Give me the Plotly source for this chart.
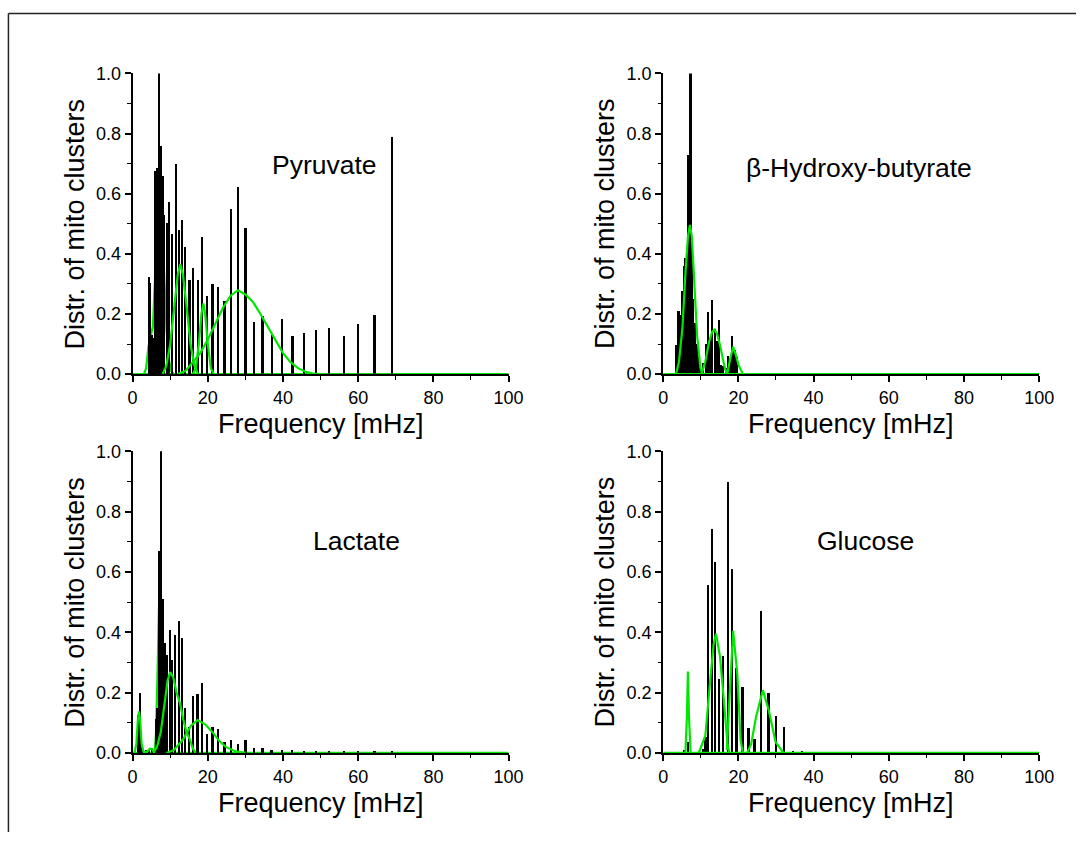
import plotly.graph_objects as go

# ---------------- data ----------------
pyr_x = [4.3, 4.6, 4.8, 5.1, 5.4, 5.7, 6.0, 6.5, 6.97, 7.4, 7.9, 8.4, 9.1, 9.7, 10.5, 11.4,
         12.2, 13.0, 14.0, 15.1, 16.1, 17.3, 18.5, 19.8, 21.2, 22.7, 24.4, 26.1, 28.0, 30.0,
         32.2, 34.5, 37.0, 39.7, 42.5, 45.5, 48.8, 52.3, 56.1, 60.0, 64.3, 69.0]
pyr_y = [0.32, 0.30, 0.12, 0.13, 0.12, 0.12, 0.674, 0.683, 1.0, 0.757, 0.656, 0.527, 0.50,
         0.571, 0.463, 0.696, 0.477, 0.512, 0.42, 0.31, 0.35, 0.31, 0.454, 0.26, 0.297, 0.287,
         0.243, 0.547, 0.621, 0.485, 0.173, 0.192, 0.129, 0.183, 0.126, 0.134, 0.144, 0.151,
         0.126, 0.165, 0.194, 0.788]

hb_x = [3.6, 4.2, 4.75, 5.27, 5.7, 6.05, 6.4, 6.84, 7.36, 7.75, 8.1, 8.5, 9.0, 9.5, 10.0,
        10.6, 11.4, 12.05, 12.5, 13.0, 13.8, 14.4, 14.9, 15.5, 16.1, 16.8, 17.4, 18.0, 18.5,
        19.1, 19.7]
hb_y = [0.097, 0.207, 0.194, 0.276, 0.357, 0.384, 0.40, 0.728, 1.0, 0.40, 0.25, 0.17, 0.10,
        0.07, 0.04, 0.035, 0.10, 0.205, 0.12, 0.245, 0.15, 0.11, 0.178, 0.03, 0.025, 0.02,
        0.059, 0.05, 0.126, 0.08, 0.056]

lac_x = [1.3, 1.9, 2.4, 3.5, 4.3, 5.2, 6.1, 6.5, 6.96, 7.5, 8.0, 8.5, 9.1, 9.8, 10.5, 11.3,
         12.2, 13.05, 13.9, 15.0, 16.1, 17.2, 18.5, 19.8, 21.2, 22.7, 24.4, 26.1, 28.0, 30.0,
         32.2, 34.5, 36.9, 39.6, 42.4, 45.5, 48.8, 52.3, 56.1, 60.0, 64.3, 69.0]
lac_y = [0.124, 0.197, 0.02, 0.01, 0.01, 0.015, 0.113, 0.149, 0.67, 1.0, 0.509, 0.365, 0.325,
         0.408, 0.307, 0.39, 0.435, 0.381, 0.149, 0.084, 0.189, 0.194, 0.23, 0.063, 0.086,
         0.077, 0.036, 0.042, 0.028, 0.042, 0.015, 0.015, 0.008, 0.01, 0.008, 0.006, 0.005,
         0.005, 0.004, 0.005, 0.006, 0.005]

glu_x = [5.8, 6.66, 10.6, 11.36, 12.14, 13.1, 13.97, 15.0, 16.06, 17.3, 18.5, 19.6, 21.2,
         22.8, 24.4, 26.2, 28.1, 30.1, 32.2, 34.6, 37.0]
glu_y = [0.01, 0.036, 0.012, 0.052, 0.556, 0.742, 0.633, 0.244, 0.319, 0.896, 0.608, 0.28,
         0.217, 0.083, 0.046, 0.469, 0.197, 0.122, 0.085, 0.007, 0.004]

# fitted peaks (green); flag True = hidden behind the bars
pyr_fits = [
    ([0, 100], [0, 0], True),
    ([3.0, 3.6, 4.2, 4.8, 5.4, 6.0, 6.6, 7.2, 7.8, 8.4, 9.0, 9.6, 10.3, 11.0],
     [0, 0.02, 0.09, 0.12, 0.16, 0.33, 0.52, 0.60, 0.52, 0.33, 0.15, 0.05, 0.01, 0], True),
    ([8.0, 9.0, 10.0, 11.0, 12.0, 12.7, 13.4, 14.4, 15.4, 16.4, 17.4],
     [0, 0.03, 0.10, 0.22, 0.33, 0.366, 0.33, 0.22, 0.10, 0.03, 0], False),
    ([16.0, 16.8, 17.6, 18.3, 18.8, 19.3, 20.0, 20.8, 21.6],
     [0, 0.02, 0.10, 0.20, 0.235, 0.20, 0.10, 0.02, 0], False),
    ([12, 14, 16, 18, 20, 22, 24, 26, 28, 30, 32, 34, 36, 38, 40, 42, 44, 46, 48, 50],
     [0, 0.01, 0.04, 0.07, 0.115, 0.165, 0.22, 0.26, 0.279, 0.265, 0.24, 0.20, 0.155, 0.11,
      0.07, 0.04, 0.02, 0.008, 0.002, 0], False),
]
hb_fits = [
    ([0, 100], [0, 0], False),
    ([3.0, 3.5, 4.2, 5.1, 5.96, 6.6, 7.1, 7.6, 8.1, 9.0, 9.9, 10.4],
     [0, 0.004, 0.042, 0.151, 0.346, 0.46, 0.496, 0.46, 0.346, 0.13, 0.02, 0], False),
    ([10.0, 10.3, 11.2, 12.2, 13.0, 13.6, 14.3, 15.1, 16.4, 17.0],
     [0, 0.004, 0.042, 0.107, 0.14, 0.148, 0.135, 0.097, 0.02, 0], False),
    ([16.6, 17.1, 17.8, 18.6, 19.3, 20.05, 21.2],
     [0, 0.004, 0.05, 0.091, 0.065, 0.03, 0], False),
]
lac_fits = [
    ([0, 100], [0, 0], True),
    ([0.5, 1.0, 1.4, 1.7, 2.0, 2.4, 2.9, 3.4, 4.0, 4.6, 5.2, 5.8],
     [0, 0.03, 0.11, 0.138, 0.11, 0.03, 0.004, 0.002, 0.006, 0.014, 0.012, 0], False),
    ([5.8, 6.2, 6.6, 7.0, 7.4, 7.9, 8.4, 8.9],
     [0, 0.06, 0.25, 0.48, 0.55, 0.40, 0.15, 0], True),
    ([5.5, 6.5, 7.5, 8.5, 9.3, 10.0, 10.8, 11.7, 12.6, 13.5, 14.3, 15.2, 16.0, 16.8],
     [0, 0.02, 0.07, 0.16, 0.24, 0.268, 0.25, 0.20, 0.165, 0.11, 0.07, 0.046, 0.015, 0], False),
    ([9, 11, 13.5, 15.5, 17.3, 19.3, 21.3, 23, 24.8, 27.4, 30],
     [0, 0.01, 0.046, 0.09, 0.109, 0.095, 0.068, 0.04, 0.02, 0.005, 0], False),
]
glu_fits = [
    ([0, 100], [0, 0], False),
    ([5.9, 6.3, 6.57, 6.85, 7.3], [0, 0.12, 0.27, 0.12, 0], False),
    ([9.45, 11.2, 12.5, 13.4, 14.05, 15.1, 16.2, 17.1, 17.6],
     [0, 0.057, 0.24, 0.36, 0.395, 0.32, 0.165, 0.03, 0], False),
    ([16.9, 17.45, 18.6, 19.7, 20.6, 21.2], [0.01, 0.133, 0.405, 0.262, 0.04, 0], False),
    ([22.3, 23.4, 24.7, 26.5, 28.1, 29.9, 32.0], [0, 0.03, 0.12, 0.208, 0.14, 0.036, 0], False),
]

labels = ["Pyruvate", "\u03b2-Hydroxy-butyrate", "Lactate", "Glucose"]
x_title = "Frequency [mHz]"
y_title = "Distr. of mito clusters"
x_ticks = [0, 20, 40, 60, 80, 100]
y_ticks = [0.0, 0.2, 0.4, 0.6, 0.8, 1.0]

# ---------------- layout constants ----------------
W, H = 1091, 842
FONT = "Arial, Liberation Sans, Helvetica, sans-serif"
GREEN = "#00e600"


def fx(p):
    return p / W


def fy(p):
    return 1 - p / H


left_px = (130, 513)
right_px = (670.5, 1053.5)
top_px = (65, 373)
bot_px = (452, 761)

panels = [
    dict(bx=pyr_x, by=pyr_y, fits=pyr_fits, xp=left_px, yp=top_px,
         label=labels[0], lx=325, ly=159),
    dict(bx=hb_x, by=hb_y, fits=hb_fits, xp=right_px, yp=top_px,
         label=labels[1], lx=870, ly=162),
    dict(bx=lac_x, by=lac_y, fits=lac_fits, xp=left_px, yp=bot_px,
         label=labels[2], lx=358, ly=544),
    dict(bx=glu_x, by=glu_y, fits=glu_fits, xp=right_px, yp=bot_px,
         label=labels[3], lx=877, ly=544),
]

fig = go.Figure()
layout = dict(
    width=W, height=H, margin=dict(l=0, r=0, t=0, b=0),
    paper_bgcolor="white", plot_bgcolor="white", showlegend=False,
    font=dict(family=FONT, color="black"),
)

axis_common = dict(showgrid=False, zeroline=False, showline=True, linecolor="black",
                   linewidth=2, ticks="outside", tickcolor="black", tickwidth=1.5,
                   ticklen=6, tickfont=dict(family=FONT, size=18, color="black"))

annotations = []
overlay_idx = 5
for i, p in enumerate(panels, start=1):
    xa = "x" if i == 1 else f"x{i}"
    ya = "y" if i == 1 else f"y{i}"
    xk = "xaxis" if i == 1 else f"xaxis{i}"
    yk = "yaxis" if i == 1 else f"yaxis{i}"
    xd = [fx(p["xp"][0]), fx(p["xp"][1])]
    yd = [fy(p["yp"][1]), fy(p["yp"][0])]
    layout[xk] = dict(axis_common, domain=xd, anchor=ya, range=[0, 100],
                      tickvals=x_ticks, ticktext=[str(v) for v in x_ticks],
                      minor=dict(dtick=10, ticks="outside", ticklen=3.5, tickwidth=1.2,
                                 tickcolor="black"))
    layout[yk] = dict(axis_common, domain=yd, anchor=xa, range=[0, 1],
                      tickvals=y_ticks, ticktext=[f"{v:.1f}" for v in y_ticks],
                      minor=dict(dtick=0.1, ticks="outside", ticklen=3.5, tickwidth=1.2,
                                 tickcolor="black"))

    has_hidden = any(h for _, _, h in p["fits"])
    if has_hidden:
        # overlay subplot drawn above the base one: bars + visible fits
        oxa, oya = f"x{overlay_idx}", f"y{overlay_idx}"
        layout[f"xaxis{overlay_idx}"] = dict(overlaying=xa, range=[0, 100], visible=False,
                                             anchor=oya, domain=xd)
        layout[f"yaxis{overlay_idx}"] = dict(overlaying=ya, range=[0, 1], visible=False,
                                             anchor=oxa, domain=yd)
        overlay_idx += 1
    else:
        oxa, oya = xa, ya

    for fxs, fys, hidden in p["fits"]:
        if hidden:
            fig.add_trace(go.Scatter(x=fxs, y=fys, mode="lines", xaxis=xa, yaxis=ya,
                                     line=dict(color=GREEN, width=2.2), cliponaxis=False,
                                     hoverinfo="skip"))
    fig.add_trace(go.Bar(x=p["bx"], y=p["by"], width=0.45, xaxis=oxa, yaxis=oya,
                         marker=dict(color="black", line=dict(width=0))))
    for fxs, fys, hidden in p["fits"]:
        if not hidden:
            fig.add_trace(go.Scatter(x=fxs, y=fys, mode="lines", xaxis=oxa, yaxis=oya,
                                     line=dict(color=GREEN, width=2.2), cliponaxis=False,
                                     hoverinfo="skip"))

    # panel label
    annotations.append(dict(text=p["label"], x=fx(p["lx"]), y=fy(p["ly"]), xref="paper",
                            yref="paper", showarrow=False, xanchor="center",
                            yanchor="middle", font=dict(family=FONT, size=26.5, color="black")))
    # axis titles
    xc = (xd[0] + xd[1]) / 2
    yc = (yd[0] + yd[1]) / 2
    annotations.append(dict(text=x_title, x=xc, y=fy(p["yp"][1] + 51),
                            xref="paper", yref="paper", showarrow=False, xanchor="center",
                            yanchor="middle", font=dict(family=FONT, size=27, color="black")))
    annotations.append(dict(text=y_title, x=fx(p["xp"][0] - 59), y=yc, xref="paper",
                            yref="paper", showarrow=False, textangle=-90, xanchor="center",
                            yanchor="middle", font=dict(family=FONT, size=27, color="black")))

layout["annotations"] = annotations
layout["barmode"] = "overlay"
layout["bargap"] = 0
# outer frame (top and left edges of the exported page)
layout["shapes"] = [
    dict(type="line", xref="paper", yref="paper", x0=fx(3.5), x1=1, y0=fy(3.5), y1=fy(3.5),
         line=dict(color="#222222", width=1.5)),
    dict(type="line", xref="paper", yref="paper", x0=fx(3.5), x1=fx(3.5), y0=0, y1=fy(3.5),
         line=dict(color="#222222", width=1.5)),
]
fig.update_layout(**layout)
fig.write_html("out.html")
